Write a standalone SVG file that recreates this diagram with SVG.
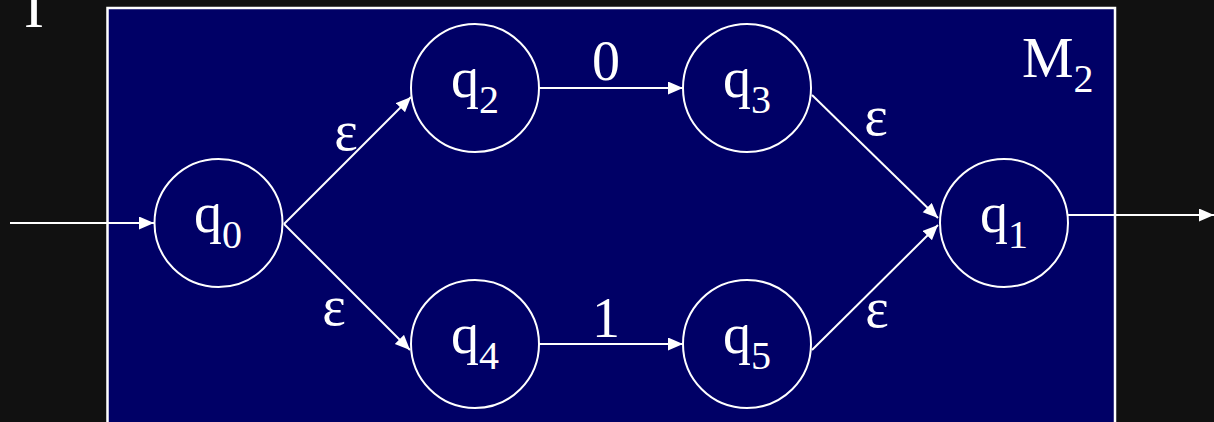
<svg xmlns="http://www.w3.org/2000/svg" width="1214" height="422" viewBox="0 0 1214 422">
<style>
.st{fill:none;stroke:#fff;stroke-width:2}
.e{stroke:#fff;stroke-width:2;fill:none}
text{font-family:"Liberation Serif","Times New Roman",serif;fill:#fff}
.q{font-size:56px}
.sub{font-size:40px}
.lab{font-size:56px;text-anchor:middle}
</style>
<defs>
<marker id="ah" markerUnits="userSpaceOnUse" markerWidth="16" markerHeight="14" refX="15" refY="6.5" orient="auto">
<path d="M0,0 L15,6.5 L0,13 z" fill="#fff"/>
</marker>
</defs>
<rect width="1214" height="422" fill="#111111"/>
<text x="34" y="27" font-size="60" text-anchor="middle">I</text>
<rect x="107.5" y="8" width="1007.5" height="440" fill="#000066" stroke="#fff" stroke-width="2.5"/>
<text x="1022" y="77" font-size="58">M<tspan class="sub" font-size="44" dy="15">2</tspan></text>
<g id="connectors">
<line class="e" x1="10" y1="223" x2="154" y2="223" marker-end="url(#ah)"/>
<line class="e" x1="284" y1="224" x2="411" y2="97" marker-end="url(#ah)"/>
<line class="e" x1="284" y1="224" x2="410" y2="350" marker-end="url(#ah)"/>
<line class="e" x1="539" y1="88" x2="683" y2="88" marker-end="url(#ah)"/>
<line class="e" x1="539" y1="344" x2="683" y2="344" marker-end="url(#ah)"/>
<line class="e" x1="812" y1="95" x2="938" y2="218" marker-end="url(#ah)"/>
<line class="e" x1="812" y1="350" x2="938" y2="225" marker-end="url(#ah)"/>
<line class="e" x1="1068" y1="215" x2="1214" y2="215" marker-end="url(#ah)"/>
<text class="lab" x="346" y="150">ε</text>
<text class="lab" x="334" y="325">ε</text>
<text class="lab" x="876" y="135">ε</text>
<text class="lab" x="877" y="327">ε</text>
<text class="lab" x="606" y="80">0</text>
<text class="lab" x="606" y="337">1</text>
</g>
<g id="q0"><circle class="st" cx="218.5" cy="223" r="64"/><text class="q" x="194" y="232">q<tspan class="sub" dy="16">0</tspan></text></g>
<g id="q2"><circle class="st" cx="475" cy="88" r="64"/><text class="q" x="451" y="97">q<tspan class="sub" dy="16">2</tspan></text></g>
<g id="q3"><circle class="st" cx="747" cy="88" r="64"/><text class="q" x="723" y="97">q<tspan class="sub" dy="16">3</tspan></text></g>
<g id="q1"><circle class="st" cx="1004" cy="223" r="64"/><text class="q" x="980" y="232">q<tspan class="sub" dy="16">1</tspan></text></g>
<g id="q4"><circle class="st" cx="475" cy="344" r="64"/><text class="q" x="451" y="353">q<tspan class="sub" dy="16">4</tspan></text></g>
<g id="q5"><circle class="st" cx="747" cy="344" r="64"/><text class="q" x="723" y="353">q<tspan class="sub" dy="16">5</tspan></text></g>
</svg>
